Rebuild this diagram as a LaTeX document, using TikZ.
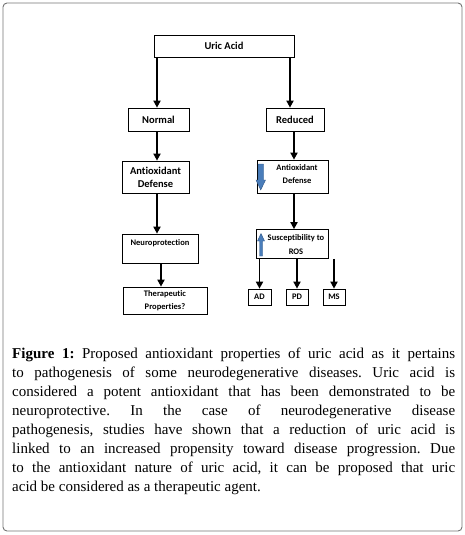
\documentclass[tikz,border=0pt]{standalone}
\usepackage{fontspec}
\setmainfont{Liberation Serif}
\newfontfamily\boxfont{Carlito}[Ligatures=NoCommon]
\usetikzlibrary{arrows.meta}
\definecolor{bluearr}{HTML}{4A7DBA}
\definecolor{bluedark}{HTML}{2F5686}
\begin{document}
\begin{tikzpicture}[x=1pt,y=-1pt,
  box/.style={draw=black,line width=0.7pt,inner sep=0pt,align=center},
  big/.style={font=\boxfont\bfseries\fontsize{10.5}{13}\selectfont},
  small/.style={font=\boxfont\bfseries\fontsize{8.5}{13.5}\selectfont},
  arr/.style={line width=1.7pt,-{Triangle[width=7pt,length=7pt]}},
  bluearrow/.style={fill=bluearr,draw=bluedark,line width=0.4pt}]
\useasboundingbox (0,0) rectangle (465,535);
\draw[black!55,line width=0.9pt,rounded corners=4pt] (3,3) rectangle (462,531);
% boxes
\node[box,big,minimum width=140pt,minimum height=22pt] (uric) at (224,46) {Uric Acid};
\node[box,big,minimum width=61pt,minimum height=23pt] (normal) at (158.5,119.5) {Normal};
\node[box,big,minimum width=58pt,minimum height=23pt] (reduced) at (295,119.5) {Reduced};
\node[box,big,minimum width=67pt,minimum height=32pt] (aoL) at (155.5,177) {Antioxidant\\Defense};
\node[box,small,minimum width=71pt,minimum height=33pt] (aoR) at (292.5,176.5) {};
\node[small,align=center,inner sep=0pt] (aoRt) at (297,174) {Antioxidant\\Defense};
\node[box,small,minimum width=76pt,minimum height=29pt] (neuro) at (160,248.5) {};
\node[small,inner sep=0pt] (neurot) at (160,243) {Neuroprotection};
\node[box,small,minimum width=72pt,minimum height=29pt] (susc) at (292,244) {};
\node[small,align=center,inner sep=0pt] (susct) at (296,244.5) {Susceptibility to\\ROS};
\node[box,small,minimum width=84pt,minimum height=27pt] (thera) at (165,300.5) {Therapeutic\\Properties?};
\node[box,small,minimum width=23pt,minimum height=16pt] (ad) at (259.5,297) {AD};
\node[box,small,minimum width=22pt,minimum height=16pt] (pd) at (297,297) {PD};
\node[box,small,minimum width=22pt,minimum height=16pt] (ms) at (334,297) {MS};
% blue arrows
\draw[bluearrow] (258,164) -- (263.5,164) -- (263.5,180) -- (265.5,180) -- (260.75,190) -- (256,180) -- (258,180) -- cycle;
\draw[bluearrow] (259.5,256) -- (262.5,256) -- (262.5,241) -- (264.5,241) -- (261,233.5) -- (257.5,241) -- (259.5,241) -- cycle;
% connectors
\coordinate (c1) at ([xshift=-1.5pt]normal.north);
\coordinate (c2) at ([xshift=-5pt]reduced.north);
\draw[arr] (c1 |- uric.south) -- (c1);
\draw[arr] (c2 |- uric.south) -- (c2);
\coordinate (c3) at ([xshift=-1.5pt]normal.south);
\draw[arr] (c3) -- (c3 |- aoL.north);
\coordinate (c4) at ([xshift=-1pt]reduced.south);
\draw[arr] (c4) -- (c4 |- aoR.north);
\coordinate (c5) at ([xshift=1.5pt]aoL.south);
\draw[arr] (c5) -- (c5 |- neuro.north);
\coordinate (c6) at ([xshift=1.5pt]aoR.south);
\draw[arr] (c6) -- (c6 |- susc.north);
\coordinate (c7) at ([xshift=1pt]neuro.south);
\draw[arr] (c7) -- (c7 |- thera.north);
\draw[arr] (susc.south -| ad) -- (ad.north);
\draw[arr] (susc.south -| pd) -- (pd.north);
\draw[arr] (susc.south -| ms) -- (ms.north);
% caption
\node[anchor=north west,inner sep=0pt,text width=443pt,align=justify,
  font=\fontsize{15}{19}\selectfont] (cap) at (12,348)
{\frenchspacing\textbf{Figure 1:} Proposed antioxidant properties of uric acid as it pertains\linebreak
to pathogenesis of some neurodegenerative diseases. Uric acid is\linebreak
considered a potent antioxidant that has been demonstrated to be\linebreak
neuroprotective. In the case of neurodegenerative disease\linebreak
pathogenesis, studies have shown that a reduction of uric acid is\linebreak
linked to an increased propensity toward disease progression. Due\linebreak
to the antioxidant nature of uric acid, it can be proposed that uric\linebreak
acid be considered as a therapeutic agent.};
\end{tikzpicture}
\end{document}
